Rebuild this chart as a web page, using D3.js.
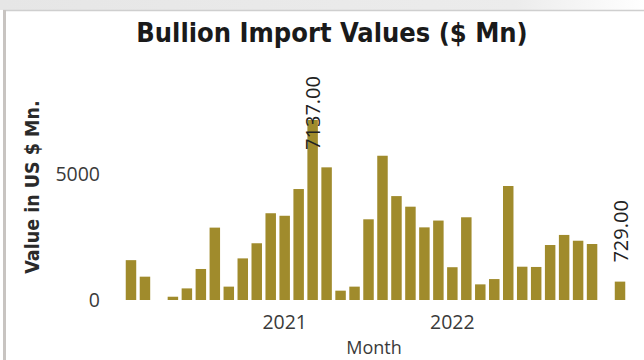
<!DOCTYPE html>
<html>
<head>
<meta charset="utf-8">
<script src="https://cdn.jsdelivr.net/npm/d3@7"></script>
<style>
  html, body { margin: 0; padding: 0; background: #ffffff; }
  svg { display: block; }
</style>
</head>
<body>
<svg id="chart" width="644" height="360"></svg>
<script>
// Monthly bullion import values, US $ Mn (Feb 2020 – Jan 2023)
const months = [
  "2020-02","2020-03","2020-04","2020-05","2020-06","2020-07","2020-08","2020-09",
  "2020-10","2020-11","2020-12","2021-01","2021-02","2021-03","2021-04","2021-05",
  "2021-06","2021-07","2021-08","2021-09","2021-10","2021-11","2021-12","2022-01",
  "2022-02","2022-03","2022-04","2022-05","2022-06","2022-07","2022-08","2022-09",
  "2022-10","2022-11","2022-12","2023-01"
];
const values = [
  1580, 925, null, 130, 460, 1230, 2870, 530,
  1650, 2250, 3440, 3340, 4400, 7137, 5260, 370,
  530, 3200, 5720, 4120, 3700, 2880, 3150, 1300,
  3280, 620, 830, 4520, 1320, 1310, 2180, 2580,
  2350, 2220, null, 729
];
// Months whose values are printed above the bars
const labelledMonths = ["2021-03", "2023-01"];
const yTicks = [0, 5000];
const yearTicks = ["2021-01", "2022-01"];

const title = "Bullion Import Values ($ Mn)";
const yTitle = "Value in US $ Mn.";
const xTitle = "Month";

const data = months.map((m, i) => ({ month: m, value: values[i] }));

const svg = d3.select("#chart");
const W = 644, H = 360;
const barColor = "#a08b2c";
const labelFont = "'Open Sans', sans-serif";
const headFont = "'DejaVu Sans Condensed', 'DejaVu Sans', sans-serif";

// Visual container frame
const defs = svg.append("defs");
const grad = defs.append("linearGradient").attr("id", "topStrip")
  .attr("x1", "0%").attr("x2", "100%");
grad.append("stop").attr("offset", "0%").attr("stop-color", "#e6e6e6");
grad.append("stop").attr("offset", "80%").attr("stop-color", "#ececec");
grad.append("stop").attr("offset", "100%").attr("stop-color", "#ffffff");
svg.append("rect").attr("x", 0).attr("y", 0).attr("width", W).attr("height", 10)
  .attr("fill", "url(#topStrip)");
svg.append("line").attr("x1", 3).attr("x2", W).attr("y1", 10.5).attr("y2", 10.5)
  .attr("stroke", "#cfcfcf").attr("stroke-width", 1.5);
svg.append("rect").attr("x", 3).attr("y", 10).attr("width", 3).attr("height", H - 10)
  .attr("fill", "#c8c4c1");

// Scales
const x = d3.scaleBand()
  .domain(months)
  .range([124, 627])
  .paddingInner(0.25)
  .paddingOuter(0.125);

const y = d3.scaleLinear()
  .domain([0, 8000])
  .range([300, 300 - 8000 * 0.02522]);

// Title
svg.append("text")
  .attr("x", 332).attr("y", 32)
  .attr("text-anchor", "middle").attr("dominant-baseline", "central")
  .attr("font-family", headFont)
  .attr("font-weight", "bold").attr("font-size", 27)
  .attr("fill", "#1a1a1a")
  .text(title);

// Bars
svg.append("g").selectAll("rect")
  .data(data.filter(d => d.value != null))
  .join("rect")
  .attr("x", d => x(d.month))
  .attr("width", x.bandwidth())
  .attr("y", d => y(d.value))
  .attr("height", d => y(0) - y(d.value))
  .attr("fill", barColor);

// Y axis
const yAxis = svg.append("g")
  .attr("transform", "translate(104,0)")
  .call(d3.axisLeft(y).tickValues(yTicks).tickSize(0).tickPadding(4).tickFormat(d3.format("d")));
yAxis.select(".domain").remove();
yAxis.selectAll("text")
  .attr("font-family", labelFont)
  .attr("font-size", 19.5).attr("fill", "#3a3a3a");

// X axis: year labels on January bars
const xAxis = svg.append("g")
  .attr("transform", "translate(0,304)")
  .call(d3.axisBottom(x).tickValues(yearTicks).tickSize(0).tickPadding(11)
    .tickFormat(m => m.slice(0, 4)));
xAxis.select(".domain").remove();
xAxis.selectAll("text")
  .attr("font-family", labelFont)
  .attr("font-size", 19.5).attr("fill", "#3a3a3a");

// Axis titles
svg.append("text")
  .attr("transform", "translate(32,187) rotate(-90)")
  .attr("text-anchor", "middle").attr("dominant-baseline", "central")
  .attr("font-family", headFont)
  .attr("font-weight", "bold").attr("font-size", 19.5)
  .attr("fill", "#2a2a2a")
  .text(yTitle);

svg.append("text")
  .attr("x", 374).attr("y", 354)
  .attr("text-anchor", "middle")
  .attr("font-family", labelFont)
  .attr("font-size", 18).attr("fill", "#3a3a3a")
  .text(xTitle);

// Data labels, rotated, kept below the title area
const labelTop = 76;
svg.append("g").selectAll("text")
  .data(data.filter(d => labelledMonths.includes(d.month)))
  .join("text")
  .attr("text-anchor", "start").attr("dominant-baseline", "central")
  .attr("font-family", labelFont)
  .attr("font-size", 20).attr("fill", "#222")
  .text(d => d3.format(".2f")(d.value))
  .each(function(d) {
    const len = this.getComputedTextLength();
    const cx = x(d.month) + x.bandwidth() / 2;
    const bottom = Math.max(y(d.value) - 19, labelTop + len);
    d3.select(this).attr("transform", `translate(${cx},${bottom}) rotate(-90)`);
  });
</script>
</body>
</html>
